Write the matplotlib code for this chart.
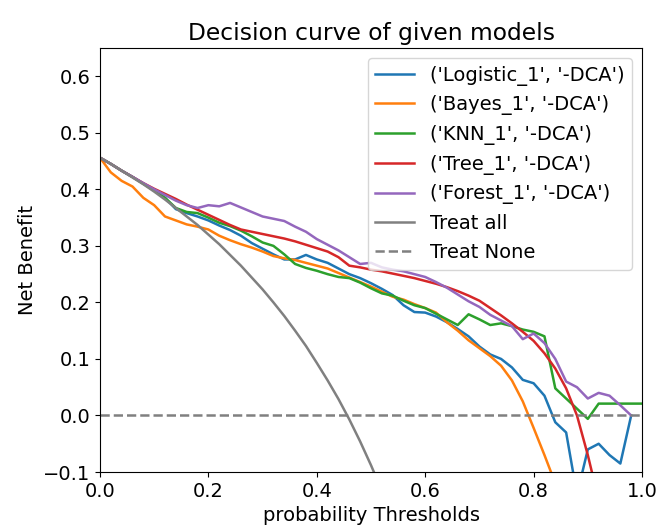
import numpy as np
from matplotlib import pyplot as plt
plt.rcParams['font.size'] = 14

# thresholds on a 0.02 grid
thresholds = np.round(np.arange(0, 1.001, 0.02), 2)

logistic = [0.456, 0.445, 0.433, 0.422, 0.410, 0.398, 0.385, 0.365, 0.358, 0.352,
            0.345, 0.336, 0.328, 0.318, 0.305, 0.295, 0.285, 0.276, 0.276, 0.284,
            0.276, 0.270, 0.260, 0.250, 0.243, 0.234, 0.224, 0.213, 0.195, 0.183,
            0.182, 0.175, 0.165, 0.153, 0.140, 0.122, 0.108, 0.100, 0.085, 0.063,
            0.057, 0.035, -0.012, -0.030, -0.140, -0.060, -0.050, -0.070, -0.085, 0.000]
bayes = [0.456, 0.430, 0.415, 0.405, 0.385, 0.372, 0.352, 0.345, 0.338, 0.334,
         0.329, 0.318, 0.310, 0.303, 0.297, 0.290, 0.282, 0.278, 0.275, 0.270,
         0.265, 0.260, 0.252, 0.244, 0.236, 0.228, 0.219, 0.210, 0.205, 0.197,
         0.190, 0.182, 0.165, 0.150, 0.133, 0.119, 0.105, 0.088, 0.062, 0.025,
         -0.022, -0.070, -0.120]
knn = [0.456, 0.445, 0.433, 0.422, 0.410, 0.398, 0.385, 0.367, 0.360, 0.358,
       0.350, 0.341, 0.335, 0.327, 0.317, 0.306, 0.300, 0.285, 0.268, 0.261,
       0.256, 0.250, 0.245, 0.243, 0.235, 0.225, 0.216, 0.212, 0.203, 0.195,
       0.190, 0.180, 0.170, 0.160, 0.179, 0.170, 0.160, 0.163, 0.158, 0.152,
       0.148, 0.140, 0.048, 0.030, 0.012, -0.006, 0.021, 0.021, 0.021, 0.021, 0.021]
tree = [0.456, 0.445, 0.433, 0.422, 0.411, 0.401, 0.392, 0.383, 0.373, 0.364,
        0.355, 0.346, 0.337, 0.329, 0.325, 0.321, 0.317, 0.313, 0.308, 0.302,
        0.296, 0.290, 0.280, 0.265, 0.262, 0.258, 0.255, 0.251, 0.247, 0.243,
        0.238, 0.233, 0.227, 0.220, 0.212, 0.203, 0.190, 0.177, 0.163, 0.148,
        0.132, 0.110, 0.083, 0.048, 0.000, -0.070, -0.150]
forest = [0.456, 0.445, 0.433, 0.422, 0.411, 0.400, 0.390, 0.380, 0.372, 0.367,
          0.372, 0.370, 0.376, 0.368, 0.360, 0.352, 0.348, 0.344, 0.334, 0.325,
          0.312, 0.302, 0.292, 0.280, 0.268, 0.270, 0.262, 0.258, 0.255, 0.250,
          0.245, 0.236, 0.226, 0.214, 0.202, 0.192, 0.178, 0.168, 0.158, 0.135,
          0.145, 0.128, 0.100, 0.060, 0.050, 0.030, 0.040, 0.035, 0.018, 0.000]
treat_all = [0.456, 0.445, 0.433, 0.421, 0.409, 0.396, 0.382, 0.367, 0.352, 0.337,
             0.320, 0.303, 0.284, 0.265, 0.244, 0.223, 0.200, 0.176, 0.150, 0.123,
             0.093, 0.062, 0.029, -0.007, -0.046, -0.088, -0.133]

models = ['Logistic_1', 'Bayes_1', 'KNN_1', 'Tree_1', 'Forest_1']
curves = [logistic, bayes, knn, tree, forest]


def execute_plot():
    fig = plt.figure(figsize=(6.56, 5.30), dpi=100)
    ax = fig.add_axes([0.1524, 0.1094, 0.8263, 0.80])

    for name, vals in zip(models, curves):
        ax.plot(thresholds[:len(vals)], vals, lw=1.8, label=str((name, '-DCA')))

    ax.plot(thresholds[:len(treat_all)], treat_all, color='grey', lw=1.8,
            label='Treat all')
    ax.plot([0, 1], [0, 0], color='grey', ls='--', lw=1.8, label='Treat None')

    ax.set_xlim(0, 1)
    ax.set_ylim(-0.1, 0.65)
    ax.set_xlabel('probability Thresholds')
    ax.set_ylabel('Net Benefit')
    ax.set_title('Decision curve of given models')
    ax.legend(loc='upper right')

    fig.savefig('out.png')


if __name__ == '__main__':
    execute_plot()
